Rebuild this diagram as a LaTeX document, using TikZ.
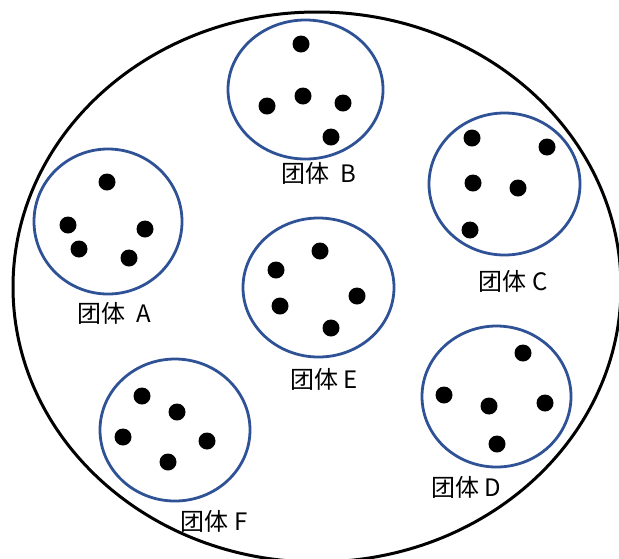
\documentclass[tikz,border=0pt]{standalone}
\usepackage{fontspec}
\setmainfont{Noto Sans CJK SC}
\usepackage{tikz}
\usetikzlibrary{shapes.geometric}
\definecolor{grpblue}{RGB}{47,82,150}

\begin{document}
\begin{tikzpicture}[x=0.5pt, y=-0.5pt,
    every node/.style={font=\fontsize{12pt}{14pt}\selectfont},
    group/.style={ellipse, draw=grpblue, line width=1.4pt, inner sep=0pt},
    member/.style={circle, fill=black, minimum size=8.5pt, inner sep=0pt},
    grplabel/.style={inner sep=0pt}
]
\useasboundingbox (0,0) rectangle (619,558);
\clip (0,0) rectangle (619,558);
% whole population
\draw[line width=1.5pt] (317,287) ellipse [x radius=304, y radius=275];
% groups
\node[group, minimum width=74pt,   minimum height=72.5pt] (grpA) at (108,221.5) {};
\node[group, minimum width=77.5pt, minimum height=69.5pt] (grpB) at (305.5,89.5) {};
\node[group, minimum width=75.5pt, minimum height=71pt]   (grpC) at (504.5,184) {};
\node[group, minimum width=74.5pt, minimum height=70.5pt] (grpD) at (496.5,396.5) {};
\node[group, minimum width=75.5pt, minimum height=69.5pt] (grpE) at (318.5,287.5) {};
\node[group, minimum width=75pt,   minimum height=71pt]   (grpF) at (175,430) {};
% members of A
\node[member] (a1) at (107,182) {};
\node[member] (a2) at (68,225) {};
\node[member] (a3) at (79,249) {};
\node[member] (a4) at (145,229) {};
\node[member] (a5) at (129,258) {};
% members of B
\node[member] (b1) at (301,44) {};
\node[member] (b2) at (303,96) {};
\node[member] (b3) at (267,106) {};
\node[member] (b4) at (343,103) {};
\node[member] (b5) at (331,137) {};
% members of C
\node[member] (c1) at (472,138) {};
\node[member] (c2) at (547,147) {};
\node[member] (c3) at (473,183) {};
\node[member] (c4) at (518,188) {};
\node[member] (c5) at (470,230) {};
% members of D
\node[member] (d1) at (523,353) {};
\node[member] (d2) at (444,395) {};
\node[member] (d3) at (489,406) {};
\node[member] (d4) at (545,403) {};
\node[member] (d5) at (497,444) {};
% members of E
\node[member] (e1) at (320,251) {};
\node[member] (e2) at (276,270) {};
\node[member] (e3) at (280,306) {};
\node[member] (e4) at (357,296) {};
\node[member] (e5) at (331,328) {};
% members of F
\node[member] (f1) at (142,396) {};
\node[member] (f2) at (177,412) {};
\node[member] (f3) at (123,437) {};
\node[member] (f4) at (207,441) {};
\node[member] (f5) at (168,462) {};
% labels
\node[grplabel] (labA) at (114.5,313) {团体\ \ A};
\node[grplabel] (labB) at (319,173) {团体\ \ B};
\node[grplabel] (labC) at (513,281) {团体 C};
\node[grplabel] (labD) at (466,487) {团体 D};
\node[grplabel] (labE) at (324,379) {团体 E};
\node[grplabel] (labF) at (214,521) {团体 F};
\end{tikzpicture}
\end{document}
